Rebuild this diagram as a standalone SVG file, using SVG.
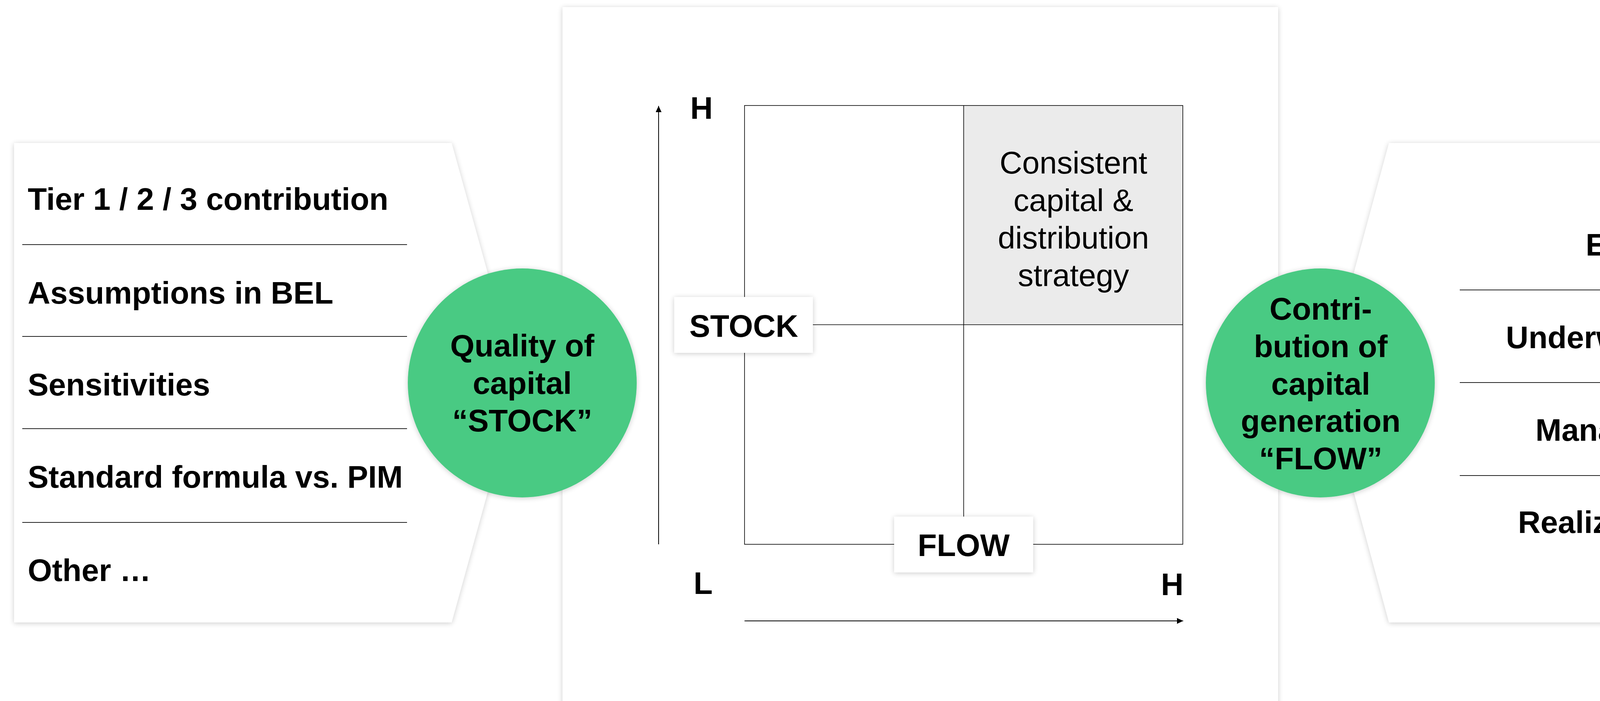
<svg xmlns="http://www.w3.org/2000/svg" width="4706" height="1794" viewBox="0 0 4706 1794">
  <defs>
    <style>
      .b { font-family: "Liberation Sans", Arial, sans-serif; font-weight: bold; font-size: 80px; fill: #000; }
      .r { font-family: "Liberation Sans", Arial, sans-serif; font-weight: normal; font-size: 80px; fill: #000; }
      .mid { text-anchor: middle; }
      .end { text-anchor: end; }
      .panel { fill: #ffffff; filter: url(#sh); }
      .sep { stroke: #222; stroke-width: 2; }
      .grid { stroke: #000; stroke-width: 1.6; fill: none; }
      .circ { fill: #4ACA83; filter: url(#sh); }
      .axis { stroke: #000; stroke-width: 2; fill: none; }
    </style>
    <filter id="sh" x="-10%" y="-10%" width="120%" height="120%">
      <feGaussianBlur in="SourceAlpha" stdDeviation="7"/>
      <feOffset dx="0" dy="2" result="bl"/>
      <feComponentTransfer>
        <feFuncA type="linear" slope="0.2"/>
      </feComponentTransfer>
      <feMerge>
        <feMergeNode/>
        <feMergeNode in="SourceGraphic"/>
      </feMerge>
    </filter>
    <marker id="arr" markerUnits="userSpaceOnUse" markerWidth="16" markerHeight="16" refX="16" refY="7.5" orient="auto">
      <path d="M0,0 L16,7.5 L0,15 z" fill="#000"/>
    </marker>
  </defs>

  <rect x="0" y="0" width="4706" height="1794" fill="#ffffff"/>

  <!-- Left panel -->
  <g id="left-panel">
    <path class="panel" d="M36,366 L1156,366 L1326,979 L1156,1593 L36,1593 Z"/>
    <line class="sep" x1="57" y1="626" x2="1042" y2="626"/>
    <line class="sep" x1="57" y1="861" x2="1042" y2="861"/>
    <line class="sep" x1="57" y1="1097" x2="1042" y2="1097"/>
    <line class="sep" x1="57" y1="1337" x2="1042" y2="1337"/>
    <text class="b" x="71" y="537">Tier 1 / 2 / 3 contribution</text>
    <text class="b" x="71" y="777">Assumptions in BEL</text>
    <text class="b" x="71" y="1012">Sensitivities</text>
    <text class="b" x="71" y="1248">Standard formula vs. PIM</text>
    <text class="b" x="71" y="1487">Other …</text>
  </g>

  <!-- Center panel -->
  <g id="center-panel">
    <rect class="panel" x="1440" y="18" width="1832" height="1800"/>
  </g>

  <!-- Right panel -->
  <g id="right-panel">
    <path class="panel" d="M3556,366 L4676,366 L4676,1593 L3556,1593 L3390,979 Z"/>
    <line class="sep" x1="3737" y1="742" x2="4647" y2="742"/>
    <line class="sep" x1="3737" y1="979" x2="4647" y2="979"/>
    <line class="sep" x1="3737" y1="1217" x2="4647" y2="1217"/>
    <text class="b end" x="4633" y="654">Excess returns</text>
    <text class="b end" x="4633" y="891">Underwriting results</text>
    <text class="b end" x="4633" y="1128">Managing of costs</text>
    <text class="b end" x="4633" y="1364">Realizing synergies</text>
  </g>

  <!-- Matrix -->
  <g id="matrix">
    <rect x="2467" y="270" width="561" height="561" fill="#EBEBEB"/>
    <rect class="grid" x="1906" y="270" width="1122" height="1123"/>
    <line class="grid" x1="2467" y1="270" x2="2467" y2="1393"/>
    <line class="grid" x1="1906" y1="831" x2="3028" y2="831"/>
    <text class="r mid" x="2748" y="444">Consistent</text>
    <text class="r mid" x="2748" y="540">capital &amp;</text>
    <text class="r mid" x="2748" y="636">distribution</text>
    <text class="r mid" x="2748" y="732">strategy</text>
  </g>

  <!-- Axes -->
  <g id="connectors">
    <line class="axis" x1="1686" y1="1393" x2="1686" y2="271" marker-end="url(#arr)"/>
    <line class="axis" x1="1906" y1="1589" x2="3029" y2="1589" marker-end="url(#arr)"/>
  </g>

  <g id="axis-labels">
    <text class="b mid" x="1796" y="304">H</text>
    <text class="b mid" x="1800" y="1520">L</text>
    <text class="b mid" x="3001" y="1523">H</text>
  </g>

  <g id="stock-label">
    <rect class="panel" x="1726" y="760" width="355" height="143"/>
    <text class="b mid" x="1904" y="862">STOCK</text>
  </g>

  <g id="flow-label">
    <rect class="panel" x="2289" y="1322" width="356" height="143"/>
    <text class="b mid" x="2467" y="1423">FLOW</text>
  </g>

  <!-- Circles -->
  <g id="stock-circle">
    <circle class="circ" cx="1337" cy="980" r="293"/>
    <text class="b mid" x="1337" y="912">Quality of</text>
    <text class="b mid" x="1337" y="1008">capital</text>
    <text class="b mid" x="1337" y="1104">“STOCK”</text>
  </g>

  <g id="flow-circle">
    <circle class="circ" cx="3380" cy="980" r="293"/>
    <text class="b mid" x="3381" y="818">Contri-</text>
    <text class="b mid" x="3381" y="914">bution of</text>
    <text class="b mid" x="3381" y="1010">capital</text>
    <text class="b mid" x="3381" y="1105">generation</text>
    <text class="b mid" x="3381" y="1201">“FLOW”</text>
  </g>
</svg>
